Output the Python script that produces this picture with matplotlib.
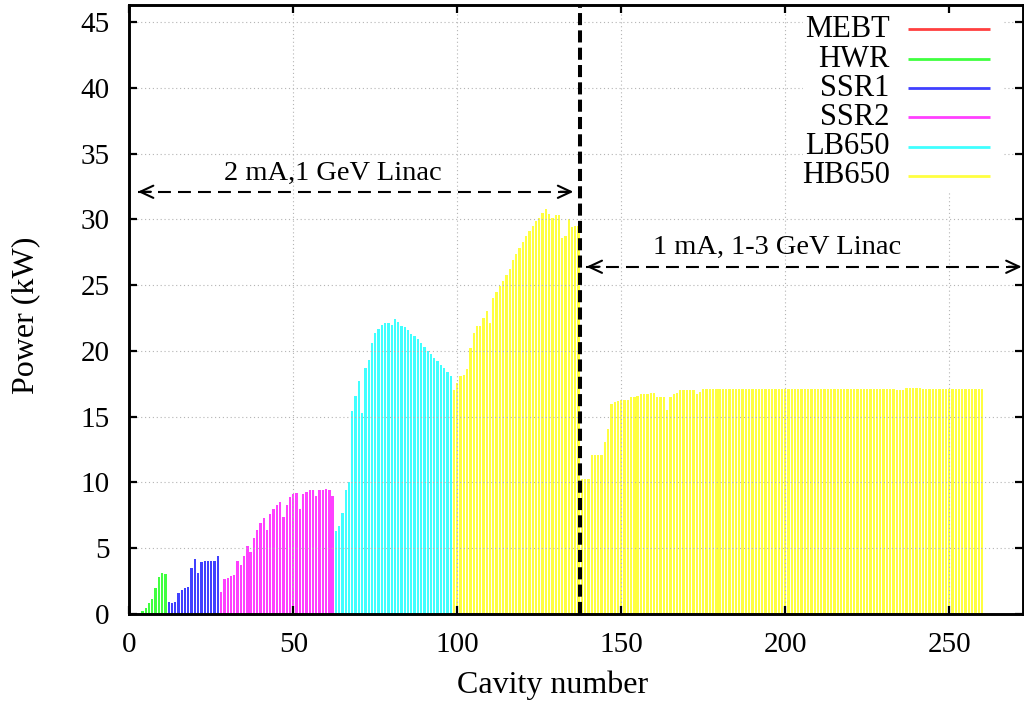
import numpy as np
import matplotlib
matplotlib.use("Agg")
import matplotlib.pyplot as plt
from matplotlib.patches import Rectangle

plt.rcParams["font.family"] = ["Liberation Serif", "DejaVu Serif"]

# Linac sections, in beam order
sections = ["MEBT", "HWR", "SSR1", "SSR2", "LB650", "HB650"]
colors = ["#ff4040", "#40ff40", "#4040ff", "#ff40ff", "#40ffff", "#ffff40"]

# RF power per cavity (kW)
mebt_kw = [0.03, 0.03, 0.03]
hwr_kw = [0.23, 0.43, 0.81, 1.12, 1.95, 2.84, 3.15, 3.02]
ssr1_kw = [0.94, 0.86, 0.94, 1.57, 1.83, 1.95, 2.08, 3.48,
           4.16, 3.09, 3.98, 4.06, 4.06, 4.06, 4.03, 4.41]
ssr2_kw = [1.7, 2.64, 2.7, 2.9, 2.95, 4.0, 3.7, 4.4, 5.2, 4.7,
           5.8, 6.4, 6.9, 7.3, 6.4, 7.6, 8.0, 8.3, 8.5, 7.4,
           8.3, 8.9, 9.1, 9.2, 8.0, 9.1, 9.3, 9.4, 9.4, 9.0,
           9.4, 9.4, 9.5, 9.4, 9.0]
lb650_kw = [6.34, 6.7, 7.66, 9.4, 10.0, 15.4, 16.6, 17.7, 15.3, 18.7,
            19.3, 20.6, 21.4, 21.7, 22.0, 22.1, 22.1, 22.0, 22.4, 22.2,
            21.9, 21.8, 21.6, 21.3, 21.1, 20.9, 20.6, 20.3, 20.0, 19.8,
            19.5, 19.2, 18.95, 18.7, 18.4, 18.1]
hb650_kw = [
    # 2 mA, 1 GeV linac
    17.05, 17.6, 18.1, 18.2, 18.6, 20.2, 21.4, 21.9, 21.9, 22.5,
    23.0, 22.1, 24.0, 24.5, 24.9, 25.3, 25.8, 26.2, 26.9, 27.4,
    27.8, 28.3, 28.7, 29.1, 29.5, 29.9, 30.1, 30.5, 30.8, 30.4,
    30.1, 30.3, 30.3, 28.6, 28.7, 30.0, 29.4, 29.5, 29.5,
    # 1 mA, 1-3 GeV extension
    10.25, 10.25, 10.25, 12.1, 12.1, 12.1, 12.1, 13.1, 14.06, 16.0,
    16.1, 16.2, 16.24, 16.3, 16.3, 16.5, 16.5, 16.6, 16.7, 16.7,
    16.7, 16.8, 16.8, 16.5, 16.5, 16.5, 15.5, 16.5, 16.7, 16.8,
    17.0, 17.0, 17.0, 17.0, 17.0, 16.7, 16.9,
    17.1, 17.1, 17.1, 17.1, 17.1, 17.1, 17.1, 17.1, 17.1, 17.1,
    17.1, 17.1, 17.1, 17.1, 17.1, 17.1, 17.1, 17.1, 17.1, 17.1,
    17.1, 17.1, 17.1, 17.1, 17.1, 17.1, 17.1, 17.1, 17.1, 17.1,
    17.1, 17.1, 17.1, 17.1, 17.1, 17.1, 17.1, 17.1, 17.1, 17.1,
    17.1, 17.1, 17.1, 17.1, 17.1, 17.1, 17.1, 17.1, 17.1, 17.1,
    17.1, 17.1, 17.1, 17.1, 17.1, 17.1, 17.1, 17.1, 17.1,
    17.0, 17.0, 17.05, 17.2, 17.2, 17.2, 17.2, 17.2,
    17.1, 17.1, 17.1, 17.1, 17.1, 17.1, 17.1, 17.1, 17.1, 17.1,
    17.1, 17.1, 17.1, 17.1, 17.1, 17.1, 17.1, 17.1, 17.1,
]
power_kw = [mebt_kw, hwr_kw, ssr1_kw, ssr2_kw, lb650_kw, hb650_kw]

x_ticks = [0, 50, 100, 150, 200, 250]
y_ticks = [0, 5, 10, 15, 20, 25, 30, 35, 40, 45]

split_cavity = 137.5          # boundary between the two linac stages
stage1_label = "2 mA,1 GeV Linac"
stage2_label = "1 mA, 1-3 GeV Linac"

fig = plt.figure(figsize=(10.24, 7.02), dpi=100)
ax = fig.add_axes([129.3 / 1024, 88 / 702, 893.7 / 1024, 609 / 702])

start = 1
for vals, col in zip(power_kw, colors):
    xs = np.arange(start, start + len(vals))
    ax.bar(xs, vals, width=0.7, color=col, linewidth=0, zorder=1)
    start += len(vals)

ax.set_xlim(0, 272.5)
ax.set_ylim(0, 46.3)
ax.set_xticks(x_ticks)
ax.set_yticks(y_ticks)
ax.set_axisbelow(False)
ax.grid(True, color="#b4b4b4", linewidth=0.8, linestyle=(0, (1, 2.5)))
ax.tick_params(direction="in", length=6, width=1.6, top=True, right=True,
               labelsize=21)
ax.tick_params(axis="x", pad=13)
ax.tick_params(axis="y", pad=14)
for sp in ax.spines.values():
    sp.set_linewidth(2.1)
    sp.set_zorder(6)

ax.set_xlabel("Cavity number", fontsize=23)
ax.xaxis.set_label_coords(0.474, -0.093)
ax.set_ylabel("Power (kW)", fontsize=23)
ax.yaxis.set_label_coords(-0.100, 0.49)

# stage boundary
ax.axvline(split_cavity, color="k", lw=2.9, dashes=(3.0, 1.3), zorder=5)

# stage spans
def span_arrow(x0, x1, y):
    ax.plot([x0, x1], [y, y], color="k", lw=1.5, dashes=(6.2, 3.4), zorder=5)
    for tip, tail in ((x0, x0 + 4), (x1, x1 - 4)):
        ax.annotate("", xy=(tip, y), xytext=(tail, y),
                    arrowprops=dict(arrowstyle="->,head_length=0.47,head_width=0.22",
                                    lw=1.5, color="k", shrinkA=0, shrinkB=0,
                                    mutation_scale=20),
                    zorder=5)

span_arrow(2.6, 135.4, 32.1)
span_arrow(139.4, 272.1, 26.4)
ax.text(62.1, 33.0, stage1_label, ha="center", va="baseline", fontsize=20.5, zorder=5)
ax.text(197.4, 27.4, stage2_label, ha="center", va="baseline", fontsize=20.5, zorder=5)

# key
ax.add_patch(Rectangle((0.754, 0.693), 0.2235, 0.292, transform=ax.transAxes,
                       facecolor="white", edgecolor="none", zorder=3))
key_y = [0.960, 0.911, 0.863, 0.8156, 0.767, 0.7197]
for name, col, ky in zip(sections, colors, key_y):
    ax.text(0.851, ky, name, transform=ax.transAxes, ha="right",
            va="center", fontsize=22, zorder=4)
    ax.plot([0.871, 0.963], [ky, ky], transform=ax.transAxes, color=col,
            lw=2.0, zorder=4, solid_capstyle="butt")

fig.savefig("out.png", dpi=100)
